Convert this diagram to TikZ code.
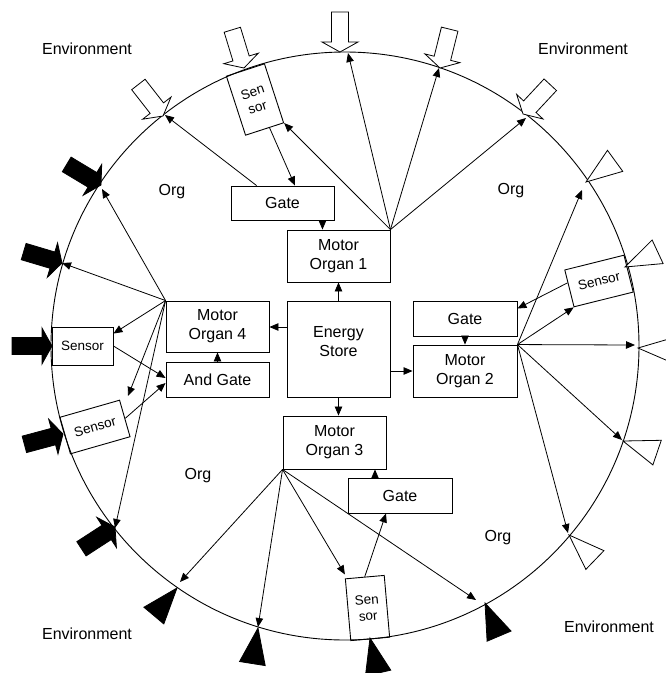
\documentclass[tikz,border=0pt]{standalone}
\usepackage{fontspec}
\setmainfont{Liberation Sans}
\usetikzlibrary{arrows.meta,calc}
\begin{document}
\begin{tikzpicture}[x=1pt,y=-1pt,
  box/.style={draw, line width=0.9pt, inner sep=0pt, align=center, font=\fontsize{16}{19}\selectfont},
  sbox/.style={draw, line width=0.9pt, inner sep=0pt, align=center, font=\fontsize{13.5}{16}\selectfont},
  conn/.style={line width=0.8pt, -{Triangle[length=9pt,width=7.5pt]}},
  lbl/.style={inner sep=0pt, align=center, font=\fontsize{16}{19}\selectfont},
  hollowarrow/.pic={\draw[line width=0.8pt, fill=white] (0,0) -- (-10,18) -- (-10,8.5) -- (-40,8.5) -- (-40,-8.5) -- (-10,-8.5) -- (-10,-18) -- cycle;},
  solidarrow/.pic={\draw[line width=0.8pt, fill=black] (0,0) -- (-10,18) -- (-10,8.5) -- (-40,8.5) -- (-40,-8.5) -- (-10,-8.5) -- (-10,-18) -- cycle;},
  hollowcone/.pic={\draw[line width=0.8pt, fill=white] (0,0) -- (36,13) -- (36,-13) -- cycle;},
  solidcone/.pic={\draw[line width=0.8pt, fill=black] (0,0) -- (36,13) -- (36,-13) -- cycle;},
]
\useasboundingbox (0,0) rectangle (666,673);

% membrane
\draw[line width=0.9pt] (345,346) circle[radius=294];

% environment inputs
\pic[rotate=-52] at (163,116) {hollowarrow};
\pic[rotate=-73] at (244,68) {hollowarrow};
\pic[rotate=-90] at (340,52) {hollowarrow};
\pic[rotate=-104] at (440,68) {hollowarrow};
\pic[rotate=-133] at (523,114) {hollowarrow};
\pic[rotate=-31] at (101,185) {solidarrow};
\pic[rotate=-16.6] at (62,263) {solidarrow};
\pic[rotate=0] at (52,346) {solidarrow};
\pic[rotate=15] at (63,434) {solidarrow};
\pic[rotate=33] at (115,527) {solidarrow};
\pic[rotate=36] at (586,182) {hollowcone};
\pic[rotate=25] at (625,267) {hollowcone};
\pic[rotate=-3.5] at (638,348) {hollowcone};
\pic[rotate=-18.8] at (623,441) {hollowcone};
\pic[rotate=-44] at (569,535) {hollowcone};
\pic[rotate=230] at (177,588) {solidcone};
\pic[rotate=261] at (258,628) {solidcone};
\pic[rotate=283] at (370,638) {solidcone};
\pic[rotate=293] at (485,603) {solidcone};

% boxes
\node[box, minimum width=103pt, minimum height=34pt] (gate1) at (282.5,203) {Gate};
\node[box, minimum width=103pt, minimum height=52pt] (mo1) at (338.5,256) {Motor\\Organ 1};
\node[box, minimum width=103pt, minimum height=96pt] (es) at (338.5,349) {};
\node[lbl] (estext) at (338.5,342) {Energy\\Store};
\node[box, minimum width=104pt, minimum height=35pt] (gate2) at (465,318.5) {Gate};
\node[box, minimum width=104pt, minimum height=52pt] (mo2) at (465,371) {Motor\\Organ 2};
\node[box, minimum width=103pt, minimum height=53pt] (mo3) at (334.5,442.5) {Motor\\Organ 3};
\node[box, minimum width=104pt, minimum height=35pt] (gate3) at (400,495.5) {Gate};
\node[box, minimum width=103pt, minimum height=51pt] (mo4) at (217.5,326.5) {Motor\\Organ 4};
\node[box, minimum width=103pt, minimum height=35pt] (andg) at (217.5,379.5) {And Gate};
\node[sbox, minimum width=61pt, minimum height=38pt] (s4a) at (82.5,346) {Sensor};
\node[sbox, minimum width=62pt, minimum height=38pt, rotate=16] (s4b) at (95,427) {Sensor};
\node[sbox, minimum width=40pt, minimum height=62pt, rotate=18] (s1) at (255,99.5) {Sen\\sor};
\node[sbox, minimum width=61pt, minimum height=38pt, rotate=14] (s2) at (599,281) {Sensor};
\node[sbox, minimum width=39pt, minimum height=62pt, rotate=5] (s3) at (367.5,608) {Sen\\sor};

% labels
\node[lbl] (org1) at (172,192) {Org};
\node[lbl] (org2) at (511,191) {Org};
\node[lbl] (org3) at (198,476) {Org};
\node[lbl] (org4) at (498,538) {Org};
\node[lbl] (env1) at (87,49) {Environment};
\node[lbl] (env2) at (583,49) {Environment};
\node[lbl] (env3) at (87,634) {Environment};
\node[lbl] (env4) at (609,627) {Environment};

% effector ends on the membrane
\coordinate (e0) at (165,115);
\coordinate (e1) at (348,53);
\coordinate (e2) at (439,68);
\coordinate (e3) at (526,118);
\coordinate (e4) at (102,189);
\coordinate (e5) at (62,263);
\coordinate (e6) at (128,396);
\coordinate (e7) at (115,528);
\coordinate (e8) at (582,190);
\coordinate (e9) at (635,345);
\coordinate (e10) at (622,440);
\coordinate (e11) at (568,533);
\coordinate (e12) at (180,582);
\coordinate (e13) at (258,627);
\coordinate (e14) at (476,600);

% energy store
\draw[conn] (es.north) -- (mo1.south);
\draw[conn] ([yshift=22pt]es.west) -- ([yshift=22pt]es.west -| mo4.east);
\draw[conn] (es.east |- mo2.west) -- (mo2.west);
\draw[conn] (es.south) -- (es.south |- mo3.north);

% gates
\draw[conn] ([xshift=-12pt]gate1.south east) -- ([xshift=-12pt]gate1.south east |- mo1.north);
\draw[conn] (gate2.south) -- (mo2.north);
\draw[conn] ([xshift=-25pt]gate3.north) -- ([xshift=-25pt]gate3.north |- mo3.south);
\draw[conn] (andg.north) -- (mo4.south);

% organ 1
\draw[conn] (mo1.north east) -- (s1.south east);
\draw[conn] (mo1.north east) -- (e1);
\draw[conn] (mo1.north east) -- (e2);
\draw[conn] (mo1.north east) -- (e3);
\draw[conn] ($(s1.south)!0.25!(s1.south east)$) -- ($(gate1.north west)!0.62!(gate1.north east)$);
\draw[conn] ([xshift=26pt]gate1.north west) -- (e0);

% organ 4
\draw[conn] (mo4.north west) -- (e4);
\draw[conn] (mo4.north west) -- (e5);
\draw[conn] (mo4.north west) -- ([yshift=-7pt]s4a.north east);
\draw[conn] (mo4.north west) -- (e6);
\draw[conn] (mo4.north west) -- (e7);
\draw[conn] (s4a.east) -- ([yshift=1.5pt]andg.west);
\draw[conn] (s4b.east) -- ([yshift=-3.5pt]andg.west);

% organ 2
\draw[conn] (mo2.north east) -- (e8);
\draw[conn] (mo2.north east) -- (s2.south west);
\draw[conn] (mo2.north east) -- (e9);
\draw[conn] (mo2.north east) -- (e10);
\draw[conn] (mo2.north east) -- (e11);
\draw[conn] ($(s2.west)!0.3!(s2.north west)$) -- ([yshift=10pt]gate2.east);

% organ 3
\draw[conn] (mo3.south west) -- (e12);
\draw[conn] (mo3.south west) -- (e13);
\draw[conn] (mo3.south west) -- ([yshift=4pt]s3.north west);
\draw[conn] (mo3.south west) -- (e14);
\draw[conn] (s3.north) -- ([xshift=-14pt]gate3.south);
\end{tikzpicture}
\end{document}
